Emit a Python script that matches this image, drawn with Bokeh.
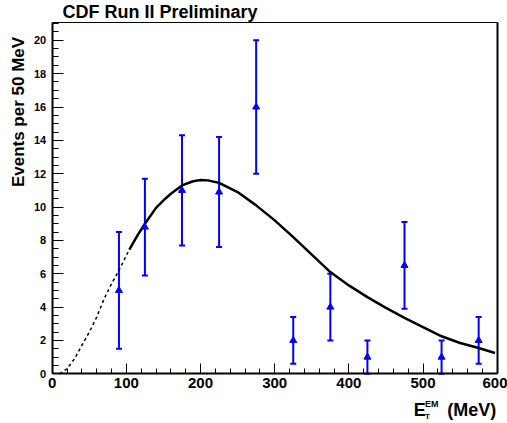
import math
from bokeh.plotting import figure
from bokeh.models import (Range1d, SingleIntervalTicker, LinearAxis, FixedTicker,
                          ColumnDataSource, Whisker, TeeHead, Label)
from bokeh.embed import file_html
from bokeh.resources import INLINE

# ---------------- data ----------------
bin_centers = [90, 125, 175, 225, 275, 325, 375, 425, 475, 525, 575]
events      = [5.0, 8.8, 11.0, 10.9, 16.0, 2.0, 4.0, 1.0, 6.5, 1.0, 2.0]
err_low     = [1.5, 5.9, 7.7, 7.6, 12.0, 0.6, 2.0, 0.0, 3.9, 0.0, 0.6]
err_high    = [8.5, 11.7, 14.3, 14.2, 20.0, 3.4, 6.0, 2.0, 9.1, 2.0, 3.4]

fit_x_dashed = [10, 20, 30, 40, 50, 60, 70, 80, 90, 100, 104]
fit_y_dashed = [0.0, 0.3, 0.9, 1.7, 2.5, 3.4, 4.5, 5.4, 6.2, 7.1, 7.45]

fit_x_solid = [104, 115, 125, 140, 150, 160, 175, 190, 200, 210, 225, 250, 275,
               300, 325, 350, 375, 400, 425, 450, 475, 500, 525, 550, 575, 597]
fit_y_solid = [7.45, 8.3, 9.0, 9.95, 10.4, 10.8, 11.3, 11.55, 11.62, 11.6, 11.45,
               10.9, 10.1, 9.2, 8.2, 7.15, 6.1, 5.3, 4.6, 3.95, 3.35, 2.8, 2.25,
               1.85, 1.55, 1.25]

title_text = "CDF Run II Preliminary"
ylabel_text = "Events per 50 MeV"
xlabel_main = "E"
xlabel_sub = "T"
xlabel_sup = "EM"
xlabel_unit = "(MeV)"

# axis extents (data units)
X0, X1 = 0, 600
Y0, Y1 = 0, 21.05

# ---------------- layout (pixels) ----------------
W, H = 507, 423
PL, PR, PT, PB = 51.7, 496.7, 22.3, 373.3   # where the axes box sits

sx = (PR - PL) / (X1 - X0)
sy = (PB - PT) / (Y1 - Y0)

def dx(px):
    return X0 + (px - PL) / sx

def dy(py):
    return Y0 + (PB - py) / sy

BLUE = "#0000ff"
FONT = "Liberation Sans"

p = figure(width=W, height=H, output_backend="svg", toolbar_location=None,
           x_range=Range1d(dx(0), dx(W)), y_range=Range1d(dy(H), dy(0)),
           x_axis_location=None, y_axis_location=None,
           min_border=0, min_border_left=0, min_border_right=0,
           min_border_top=0, min_border_bottom=0)
p.grid.visible = False
p.background_fill_color = "white"
p.border_fill_color = "white"
p.outline_line_color = None

def style(ax):
    ax.axis_line_color = "black"
    ax.major_tick_line_color = "black"
    ax.minor_tick_line_color = "black"
    ax.major_tick_line_width = 1
    ax.minor_tick_line_width = 1
    ax.major_label_text_font = FONT
    ax.major_label_text_font_style = "bold"
    ax.major_label_text_color = "black"

xa = LinearAxis(fixed_location=Y0, bounds=(X0, X1),
                ticker=SingleIntervalTicker(interval=100, num_minor_ticks=5),
                major_tick_in=10, major_tick_out=0, minor_tick_in=5,
                minor_tick_out=0, major_label_standoff=4,
                major_label_text_font_size="15px", axis_line_width=2)
style(xa)
p.add_layout(xa, "below")

ya = LinearAxis(fixed_location=X0, bounds=(Y0, Y1),
                ticker=SingleIntervalTicker(interval=2, num_minor_ticks=4),
                major_tick_in=11, major_tick_out=0, minor_tick_in=6,
                minor_tick_out=0, major_label_standoff=6,
                major_label_text_font_size="11px", axis_line_width=2)
style(ya)
p.add_layout(ya, "left")

# frame: right and top edges
ra = LinearAxis(fixed_location=X1, bounds=(Y0, Y1),
                ticker=FixedTicker(ticks=[], minor_ticks=[]),
                major_label_text_font_size="0px", axis_line_width=2,
                major_tick_in=0, major_tick_out=0, minor_tick_in=0,
                minor_tick_out=0)
p.add_layout(ra, "right")
ta = LinearAxis(fixed_location=Y1, bounds=(X0, X1),
                ticker=FixedTicker(ticks=[], minor_ticks=[]),
                major_label_text_font_size="0px", axis_line_width=1,
                major_tick_in=0, major_tick_out=0, minor_tick_in=0,
                minor_tick_out=0)
p.add_layout(ta, "above")

# ---------------- fit curve ----------------
p.line(fit_x_dashed, fit_y_dashed, line_color="black", line_width=1.5,
       line_dash="3 3")
p.line(fit_x_solid, fit_y_solid, line_color="black", line_width=2.5)

# ---------------- data points ----------------
src = ColumnDataSource(dict(x=bin_centers, y=events, lo=err_low, hi=err_high))
wh = Whisker(source=src, base="x", lower="lo", upper="hi",
             line_color=BLUE, line_width=2,
             upper_head=TeeHead(size=6, line_color=BLUE, line_width=2),
             lower_head=TeeHead(size=6, line_color=BLUE, line_width=2))
p.add_layout(wh)
p.scatter("x", "y", source=src, marker="triangle", size=7,
          fill_color=BLUE, line_color=BLUE)

# ---------------- texts ----------------
SHIFT = 0.3  # renderer places the alphabetic baseline ~0.3 em lower

def lab(text, px, py, size, angle=0.0, align="left"):
    fs = float(size.replace("px", ""))
    if angle:
        px -= SHIFT * fs
    else:
        py -= SHIFT * fs
    return Label(x=dx(px), y=dy(py), text=text, text_font=FONT,
                 text_font_style="bold", text_font_size=size,
                 text_align=align, text_baseline="alphabetic",
                 angle=angle, text_color="black")

p.add_layout(lab(title_text, 62, 16.5, "18px"))
p.add_layout(lab(ylabel_text, 22.7, 111.5, "17px", angle=math.pi / 2,
                 align="center"))
p.add_layout(lab(xlabel_main, 413.3, 415, "18px"))
p.add_layout(lab(xlabel_sub, 424.5, 418.5, "8px"))
p.add_layout(lab(xlabel_sup, 424.5, 406, "9px"))
p.add_layout(lab(xlabel_unit, 446.7, 415, "18px"))

open("out.html", "w").write(file_html(p, INLINE))
